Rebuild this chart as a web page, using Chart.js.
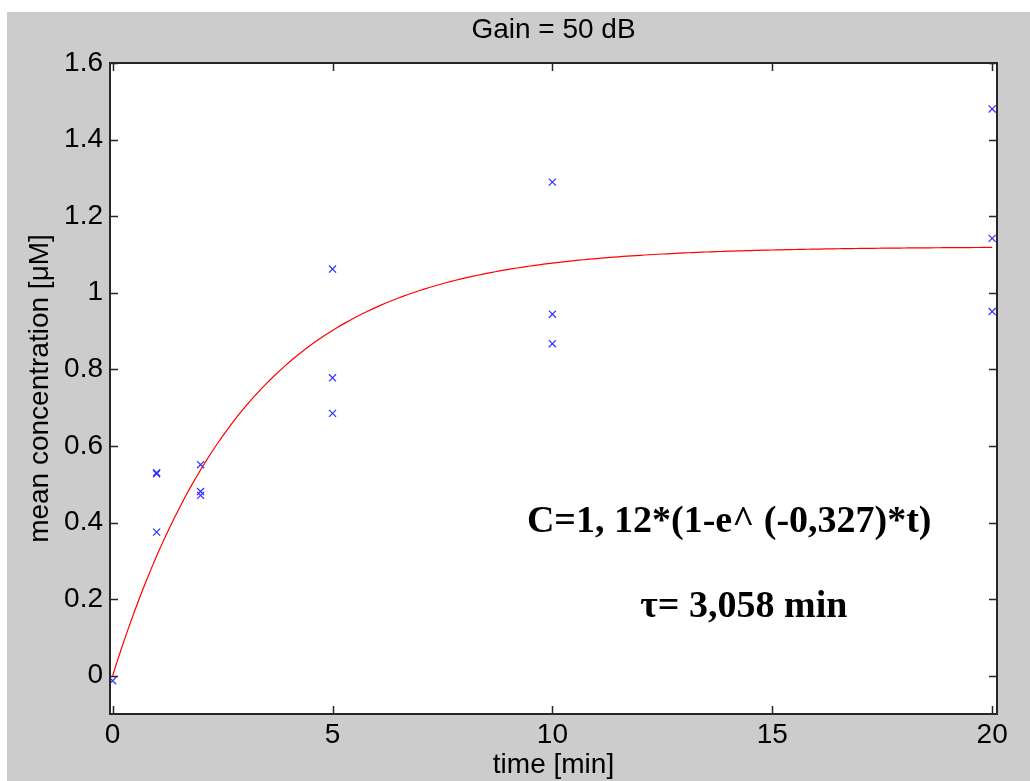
<!DOCTYPE html>
<html>
<head>
<meta charset="utf-8">
<title>Gain = 50 dB</title>
<script src="https://cdn.jsdelivr.net/npm/chart.js@4.4.1/dist/chart.umd.min.js"></script>
<style>
  html, body { margin: 0; padding: 0; background: #ffffff; }
  canvas { display: block; }
</style>
</head>
<body>
<canvas id="chart" width="1030" height="781"></canvas>
<script>
// Measured concentrations (three replicates per sampling time)
const sampleTimes = [0, 1, 1, 1, 2, 2, 2, 5, 5, 5, 10, 10, 10, 20, 20, 20];
const meanConcentration = [-0.013, 0.530, 0.527, 0.375, 0.551, 0.481, 0.471, 1.062, 0.778, 0.685, 1.289, 0.944, 0.867, 1.480, 1.142, 0.951];

// Fitted first-order response C = A*(1 - e^(-k*t)), tau = 1/k
const fitAmplitude = 1.12;
const fitRate = 0.327;
const fitTau = 3.058;
const fitTimes = [];
for (let i = 0; i <= 200; i++) fitTimes.push(i / 10);

// Axis ticks
const xTickValues = [0, 5, 10, 15, 20];
const yTickValues = [0, 0.2, 0.4, 0.6, 0.8, 1, 1.2, 1.4, 1.6];

// Texts
const chartTitle = 'Gain = 50 dB';
const fitEquationLabel = 'C=1, 12*(1-e^ (-0,327)*t)';
const tauLabel = '\u03C4= 3,058 min';

const scatterPoints = sampleTimes.map((t, i) => ({ x: t, y: meanConcentration[i] }));
const fitPoints = fitTimes.map(t => ({ x: t, y: fitAmplitude * (1 - Math.exp(-fitRate * t)) }));

const sansFont = "'Liberation Sans', Arial, sans-serif";
const labelSize = 28;

// Figure background, white axes area, box frame with inward tick marks, annotations
const frame = {
  id: 'frame',
  beforeDraw(chart) {
    const { ctx, chartArea: a } = chart;
    ctx.save();
    ctx.fillStyle = '#ffffff';
    ctx.fillRect(0, 0, chart.width, chart.height);
    ctx.fillStyle = '#cccccc';
    ctx.fillRect(7, 12, chart.width - 7, chart.height - 12);
    ctx.fillStyle = '#ffffff';
    ctx.fillRect(a.left, a.top, a.right - a.left, a.bottom - a.top);
    ctx.restore();
  },
  afterDraw(chart) {
    const { ctx, chartArea: a, scales } = chart;
    const tl = 8;
    ctx.save();
    ctx.strokeStyle = '#262626';
    ctx.lineWidth = 1.5;
    ctx.beginPath();
    xTickValues.forEach(v => {
      const px = Math.round(scales.x.getPixelForValue(v)) + 0.5;
      ctx.moveTo(px, a.bottom); ctx.lineTo(px, a.bottom - tl);
      ctx.moveTo(px, a.top); ctx.lineTo(px, a.top + tl);
    });
    yTickValues.forEach(v => {
      const py = Math.round(scales.y.getPixelForValue(v)) + 0.5;
      ctx.moveTo(a.left, py); ctx.lineTo(a.left + tl, py);
      ctx.moveTo(a.right, py); ctx.lineTo(a.right - tl, py);
    });
    ctx.stroke();
    ctx.lineWidth = 2;
    ctx.strokeRect(a.left, a.top, a.right - a.left, a.bottom - a.top);

    ctx.fillStyle = '#000000';
    ctx.font = "bold 38px 'Liberation Serif', 'Times New Roman', serif";
    ctx.textBaseline = 'middle';
    ctx.textAlign = 'left';
    ctx.fillText(fitEquationLabel, scales.x.getPixelForValue(9.42), scales.y.getPixelForValue(0.402));
    ctx.fillText(tauLabel, scales.x.getPixelForValue(12.0), scales.y.getPixelForValue(0.18));
    ctx.restore();
  }
};

new Chart(document.getElementById('chart'), {
  type: 'scatter',
  data: {
    datasets: [
      {
        label: 'fit',
        type: 'line',
        data: fitPoints,
        borderColor: '#ff0000',
        borderWidth: 1.2,
        pointRadius: 0,
        tension: 0,
        fill: false,
        order: 2
      },
      {
        label: 'measured',
        data: scatterPoints,
        pointStyle: 'crossRot',
        pointRadius: 5,
        pointBorderWidth: 1.2,
        borderColor: '#3030ff',
        backgroundColor: '#3030ff',
        order: 1
      }
    ]
  },
  options: {
    responsive: false,
    animation: false,
    devicePixelRatio: 1,
    events: [],
    layout: { padding: { left: 7, right: 33, top: 0, bottom: 0 } },
    plugins: {
      legend: { display: false },
      tooltip: { enabled: false },
      title: { display: false }
    },
    scales: {
      x: {
        type: 'linear',
        min: -0.06,
        max: 20.11,
        afterBuildTicks: s => { s.ticks = xTickValues.map(v => ({ value: v })); },
        afterFit: s => { s.height = 67; },
        grid: { display: false, drawTicks: false },
        border: { display: false },
        ticks: {
          color: '#000000',
          font: { family: sansFont, size: labelSize },
          padding: 4,
          maxRotation: 0,
          autoSkip: false,
          callback: v => String(v)
        },
        title: {
          display: true,
          text: 'time [min]',
          color: '#000000',
          font: { family: sansFont, size: labelSize, lineHeight: 1.15 },
          padding: { top: 0, bottom: 0 }
        }
      },
      // Top axis carries the title so it is centred over the plot box
      xTop: {
        type: 'linear',
        position: 'top',
        min: -0.06,
        max: 20.11,
        afterFit: s => { s.height = 63; },
        grid: { display: false, drawTicks: false },
        border: { display: false },
        ticks: { display: false },
        title: {
          display: true,
          text: chartTitle,
          color: '#000000',
          font: { family: sansFont, size: labelSize, lineHeight: 1.2 },
          padding: { top: 13, bottom: 0 }
        }
      },
      y: {
        type: 'linear',
        min: -0.1,
        max: 1.6,
        afterBuildTicks: s => { s.ticks = yTickValues.map(v => ({ value: v })); },
        afterFit: s => { s.width = 103; },
        grid: { display: false, drawTicks: false },
        border: { display: false },
        ticks: {
          color: '#000000',
          font: { family: sansFont, size: labelSize },
          padding: 7,
          autoSkip: false,
          callback: v => String(Math.round(v * 10) / 10)
        },
        title: {
          display: true,
          text: 'mean concentration [\u03BCM]',
          color: '#000000',
          font: { family: sansFont, size: labelSize, lineHeight: 1.2 },
          padding: { top: 16, bottom: 0 }
        }
      }
    }
  },
  plugins: [frame]
});
</script>
</body>
</html>
